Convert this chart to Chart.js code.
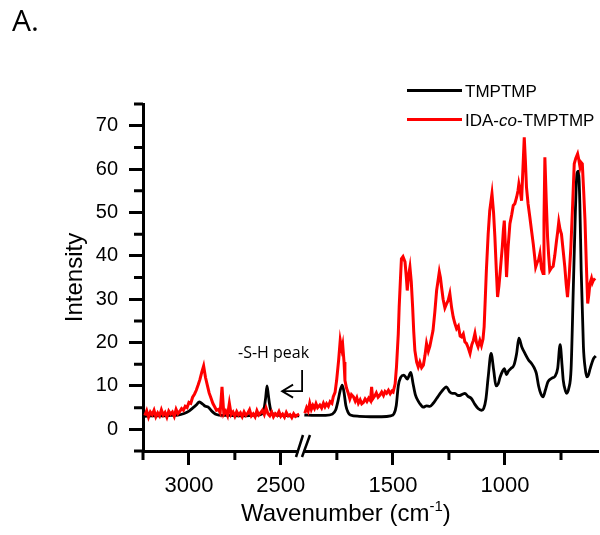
<!DOCTYPE html>
<html>
<head>
<meta charset="utf-8">
<script src="https://cdn.jsdelivr.net/npm/chart.js@4.4.1/dist/chart.umd.min.js"></script>
<style>
  html, body { margin: 0; padding: 0; background: #fff; }
  #wrap { position: relative; width: 600px; height: 535px; overflow: hidden; }
  #wrap canvas { position: absolute; left: 0; top: 0; }
  .lbl { position: absolute; white-space: nowrap; line-height: 1; color: #000; font-family: 'Liberation Sans', Arial, sans-serif; }
  .swatch { position: absolute; left: 407px; width: 55px; height: 3px; }
  .sup { font-size: 15px; position: relative; top: -10px; }
</style>
</head>
<body>
<div id="wrap">
  <canvas id="raman_chart" width="600" height="535"></canvas>
  <div class="lbl" style="left:12px; top:5px; font-family:'Open Sans', sans-serif; font-size:30px;">A.</div>
  <div class="swatch" style="top:89px; background:#000;"></div>
  <div class="lbl" style="left:465px; top:83px; font-size:17px;">TMPTMP</div>
  <div class="swatch" style="top:118px; background:#ff0000;"></div>
  <div class="lbl" style="left:465px; top:112px; font-size:17px;">IDA-<i>co</i>-TMPTMP</div>
  <div class="lbl" style="left:238px; top:344px; font-family:'Open Sans', sans-serif; font-size:16px;">-S-H peak</div>
  <div class="lbl" style="left:241px; top:501px; font-size:24px;">Wavenumber (cm<span class="sup">-1</span>)</div>
</div>
<script>
'use strict';

// axis ticks (major ones get a label)
const yTicks = [-5, 0, 5, 10, 15, 20, 25, 30, 35, 40, 45, 50, 55, 60, 65, 70, 75];
const xTicksLeft = [3250, 3000, 2750, 2500];
const xTicksRight = [1750, 1500, 1250, 1000, 750];

// S-H arrow: tip and corner, in wavenumber / intensity
const shArrowTip = [2493, 8.8];
const shArrowCorner = [2384, 13.7];

// TMPTMP, high wavenumber part
const wnLeftBlack = [3240, 3200, 3150, 3100, 3060, 3030, 3000, 2980, 2960, 2943,
    2925, 2910, 2895, 2880, 2865, 2850, 2820, 2780, 2740, 2700,
    2660, 2630, 2610, 2598, 2590, 2582, 2575, 2568, 2562, 2555,
    2546, 2535, 2510, 2480, 2450, 2420, 2400];
const tmptmpLeft = [3.0, 3.1, 3.1, 3.2, 3.3, 3.6, 4.2, 4.9, 5.6, 6.3,
    5.8, 5.3, 5.1, 4.4, 3.8, 3.4, 3.2, 3.2, 3.1, 3.1,
    3.2, 3.3, 3.4, 3.8, 5.0, 7.4, 10.0, 8.0, 6.0, 4.5,
    3.7, 3.4, 3.2, 3.2, 3.1, 3.1, 3.1];

// IDA-co-TMPTMP, high wavenumber part
const wnLeftRed = [3240, 3230, 3220, 3210, 3200, 3190, 3180, 3170, 3160, 3150,
    3140, 3130, 3120, 3110, 3100, 3090, 3080, 3070, 3060, 3050,
    3040, 3030, 3020, 3010, 3000, 2990, 2980, 2970, 2960, 2950,
    2940, 2930, 2920, 2910, 2900, 2890, 2880, 2870, 2860, 2850,
    2840, 2830, 2820, 2810, 2800, 2790, 2780, 2770, 2760, 2750,
    2740, 2730, 2720, 2710, 2700, 2690, 2680, 2670, 2660, 2650,
    2640, 2630, 2620, 2610, 2600, 2590, 2580, 2570, 2560, 2550,
    2540, 2530, 2520, 2510, 2500, 2490, 2480, 2470, 2460, 2450,
    2440, 2430, 2420, 2410, 2400];
const idaLeft = [3.2, 4.3, 2.8, 4.0, 3.4, 4.4, 2.9, 3.8, 3.1, 4.5,
    3.3, 3.9, 2.8, 4.2, 3.5, 4.0, 3.0, 4.6, 3.6, 4.1,
    4.8, 4.4, 5.3, 5.0, 6.2, 6.0, 7.4, 8.1, 9.0, 10.2,
    11.5, 13.2, 14.6, 12.0, 10.2, 8.4, 7.2, 6.0, 5.2, 4.4,
    4.6, 3.8, 9.8, 3.5, 4.2, 3.2, 6.0, 3.4, 4.0, 3.0,
    4.1, 3.3, 3.8, 2.9, 4.0, 3.2, 3.7, 4.5, 3.1, 3.6,
    2.9, 4.3, 3.3, 3.8, 4.4, 3.4, 4.9, 3.6, 3.1, 4.0,
    2.9, 3.6, 3.2, 4.1, 3.0, 3.5, 2.8, 3.9, 3.1, 3.4,
    2.7, 3.6, 3.0, 3.3, 3.5];

// TMPTMP, fingerprint part
const wnRightBlack = [1895, 1850, 1800, 1770, 1755, 1745, 1735, 1726, 1718, 1710,
    1700, 1690, 1650, 1600, 1550, 1510, 1495, 1485, 1476, 1465,
    1451, 1436, 1420, 1410, 1400, 1387, 1375, 1364, 1350, 1335,
    1320, 1305, 1283, 1261, 1246, 1235, 1223, 1210, 1201, 1190,
    1179, 1165, 1150, 1135, 1120, 1105, 1095, 1085, 1075, 1062,
    1050, 1040, 1030, 1022, 1010, 1003, 993, 985, 974, 960,
    948, 938, 925, 911, 895, 882, 870, 860, 850, 840,
    830, 820, 808, 790, 777, 765, 754, 745, 740, 730,
    725, 715, 705, 695, 686, 679, 672, 666, 660, 650,
    642, 635, 628, 620, 605, 595];
const tmptmpRight = [3.3, 3.2, 3.2, 3.5, 4.5, 6.5, 9.0, 10.2, 8.5, 5.5,
    3.9, 3.3, 3.0, 2.9, 2.9, 3.1, 3.6, 5.5, 10.0, 12.0,
    12.5, 11.6, 13.1, 10.5, 8.0, 6.5, 5.6, 5.1, 5.4, 5.3,
    6.0, 7.1, 8.7, 9.8, 8.6, 8.3, 8.3, 7.8, 7.8, 8.1,
    8.3, 7.6, 7.1, 5.8, 4.8, 4.4, 4.8, 7.0, 12.0, 17.5,
    13.5, 10.0, 10.5, 12.0, 13.5, 14.0, 12.6, 13.4, 14.0, 14.8,
    17.5, 21.0, 19.0, 17.5, 16.0, 15.2, 14.2, 12.9, 10.0, 8.2,
    7.5, 9.0, 11.0, 11.8, 12.2, 14.0, 19.5, 14.5, 11.3, 8.8,
    8.3, 9.5, 14.0, 32.8, 50.0, 58.9, 59.5, 52.0, 36.6, 19.0,
    14.0, 12.1, 12.5, 14.0, 16.3, 16.9];

// IDA-co-TMPTMP, fingerprint part
const wnRightRed = [1893, 1885, 1878, 1871, 1864, 1857, 1850, 1843, 1836, 1826,
    1818, 1810, 1803, 1796, 1788, 1780, 1772, 1766, 1758, 1751,
    1742, 1735, 1728, 1724, 1718, 1714, 1707, 1699, 1692, 1685,
    1676, 1668, 1661, 1654, 1646, 1639, 1632, 1624, 1616, 1608,
    1600, 1595, 1590, 1582, 1574, 1566, 1558, 1550, 1542, 1535,
    1528, 1520, 1512, 1505, 1499, 1490, 1484, 1476, 1472, 1466,
    1462, 1455, 1446, 1440, 1436, 1430, 1424, 1418, 1412, 1407,
    1402, 1394, 1387, 1380, 1372, 1364, 1357, 1350, 1342, 1335,
    1328, 1321, 1313, 1305, 1298, 1293, 1288, 1283, 1276, 1268,
    1260, 1253, 1246, 1238, 1231, 1224, 1216, 1208, 1200, 1194,
    1186, 1179, 1172, 1164, 1156, 1148, 1141, 1134, 1127, 1120,
    1112, 1105, 1098, 1093, 1088, 1083, 1075, 1068, 1058, 1051,
    1045, 1038, 1033, 1027, 1022, 1017, 1012, 1007, 1003, 998,
    993, 986, 978, 970, 963, 956, 948, 942, 938, 932,
    926, 920, 914, 909, 904, 897, 889, 882, 874, 868,
    863, 856, 850, 844, 837, 830, 826, 822, 816, 810,
    805, 800, 793, 785, 778, 770, 765, 760, 754, 748,
    740, 733, 727, 721, 714, 706, 698, 691, 684, 676,
    670, 665, 660, 655, 649, 643, 637, 631, 626, 621,
    614, 610, 606, 598];
const idaRight = [3.7, 5.0, 4.2, 6.0, 4.6, 5.5, 4.8, 5.9, 5.0, 5.6,
    4.9, 6.0, 5.2, 5.9, 5.3, 6.4, 6.0, 7.5, 8.5, 11.3,
    16.0, 20.5, 18.5, 19.5, 15.5, 11.3, 9.5, 8.3, 7.0, 8.0,
    7.5, 6.5, 7.3, 6.0, 6.8, 5.9, 6.2, 7.0, 6.4, 7.2,
    6.6, 9.8, 7.0, 7.6, 8.4, 7.4, 7.9, 8.6, 7.8, 8.7,
    8.3, 9.0, 8.2, 8.8, 8.6, 10.5, 14.4, 22.0, 28.2, 35.0,
    39.3, 39.8, 38.6, 35.0, 32.0, 35.5, 37.4, 34.0, 28.2, 22.5,
    18.2, 15.5, 14.4, 15.5, 14.2, 14.8, 17.0, 19.8, 18.0, 19.2,
    21.0, 22.8, 27.0, 32.0, 34.5, 36.3, 35.0, 32.8, 30.0, 28.0,
    29.0, 29.8, 31.3, 28.0, 25.9, 24.5, 23.2, 23.8, 21.5, 21.3,
    22.0, 20.2, 19.8, 18.8, 17.5, 19.5, 20.5, 22.1, 20.0, 19.0,
    20.5, 19.3, 20.8, 23.6, 30.0, 36.6, 45.0, 50.4, 54.3, 50.0,
    44.3, 36.0, 30.5, 33.0, 35.9, 39.0, 42.0, 46.0, 48.1, 42.0,
    35.1, 42.0, 47.4, 49.5, 51.6, 52.0, 53.5, 55.0, 56.6, 55.0,
    52.7, 60.0, 67.3, 62.0, 55.8, 52.0, 48.9, 46.0, 42.8, 40.0,
    37.4, 38.5, 39.0, 40.5, 37.0, 35.9, 48.0, 62.7, 53.0, 44.3,
    40.0, 36.6, 37.2, 37.6, 40.0, 43.5, 45.5, 47.8, 46.0, 45.0,
    41.0, 37.4, 33.5, 30.5, 35.0, 42.0, 52.0, 61.2, 62.5, 63.5,
    62.0, 60.4, 61.5, 61.2, 55.0, 48.1, 38.0, 29.0, 31.0, 33.6,
    34.8, 33.8, 34.3, 34.8];

const toPoints = (wn, vals) => wn.map((w, i) => ({x: w, y: vals[i]}));

function spectrum(label, wn, vals, axisId, color, smooth) {
    return {
        label: label,
        data: toPoints(wn, vals),
        xAxisID: axisId,
        borderColor: color,
        borderWidth: smooth ? 2.8 : 3,
        pointRadius: 0,
        fill: false,
        cubicInterpolationMode: smooth ? 'monotone' : 'default',
        tension: 0
    };
}

const isMajor = step => c => c.tick && c.tick.value % step === 0 ? '#000' : 'rgba(0,0,0,0)';

function wnAxis(min, max, weight, ticks) {
    return {
        type: 'linear',
        position: 'bottom',
        stack: 'wn',
        stackWeight: weight,
        min: min,
        max: max,
        reverse: true,
        afterBuildTicks: s => { s.ticks = ticks.map(v => ({value: v})); },
        afterFit: s => {
            s.height = 84;
            // no room kept for label overflow, the plot must reach the right edge
            s.paddingLeft = 0;
            s.paddingRight = 0;
        },
        grid: {drawOnChartArea: false, tickLength: 14, tickWidth: 3, tickColor: isMajor(500)},
        border: {color: '#000', width: 3},
        ticks: {
            autoSkip: false, maxRotation: 0, padding: 8, color: '#000',
            font: {size: 22},
            callback: v => v % 500 === 0 ? v : ''
        }
    };
}

// minor ticks, the axis break and the S-H arrow
const axisExtras = {
    id: 'axisExtras',
    afterDraw(chart) {
        const ctx = chart.ctx;
        const area = chart.chartArea;
        const yS = chart.scales.y, xL = chart.scales.xLeft, xR = chart.scales.xRight;
        ctx.save();
        ctx.strokeStyle = '#000';
        ctx.lineWidth = 3;
        ctx.beginPath();
        yS.ticks.forEach(t => {
            if (t.value % 10 !== 0) {
                const py = yS.getPixelForValue(t.value);
                ctx.moveTo(area.left, py);
                ctx.lineTo(area.left - 9, py);
            }
        });
        [xL, xR].forEach(s => s.ticks.forEach(t => {
            if (t.value % 500 !== 0) {
                const px = s.getPixelForValue(t.value);
                ctx.moveTo(px, area.bottom);
                ctx.lineTo(px, area.bottom + 9);
            }
        }));
        ctx.stroke();

        const bx = xL.right;
        ctx.fillStyle = '#fff';
        ctx.fillRect(bx - 2.5, area.bottom - 3, 5, 6);
        ctx.lineWidth = 2.5;
        ctx.beginPath();
        ctx.moveTo(bx - 5, area.bottom + 6);
        ctx.lineTo(bx + 2, area.bottom - 16);
        ctx.moveTo(bx + 1, area.bottom + 6);
        ctx.lineTo(bx + 9, area.bottom - 16);
        ctx.stroke();

        const tipX = xL.getPixelForValue(shArrowTip[0]), tipY = yS.getPixelForValue(shArrowTip[1]);
        const cornerX = xL.getPixelForValue(shArrowCorner[0]), topY = yS.getPixelForValue(shArrowCorner[1]);
        ctx.lineWidth = 1.8;
        ctx.beginPath();
        ctx.moveTo(cornerX, topY);
        ctx.lineTo(cornerX, tipY);
        ctx.lineTo(tipX, tipY);
        ctx.moveTo(tipX + 11, tipY - 6.5);
        ctx.lineTo(tipX, tipY);
        ctx.lineTo(tipX + 11, tipY + 6.5);
        ctx.stroke();
        ctx.restore();
    }
};

Chart.defaults.font.family = "'Liberation Sans', Arial, sans-serif";
Chart.defaults.color = '#000';

let config = {
    type: 'line',
    data: {
        datasets: [
            spectrum('IDA-co-TMPTMP', wnLeftRed, idaLeft, 'xLeft', '#ff0000', false),
            spectrum('IDA-co-TMPTMP', wnRightRed, idaRight, 'xRight', '#ff0000', false),
            spectrum('TMPTMP', wnLeftBlack, tmptmpLeft, 'xLeft', '#000000', true),
            spectrum('TMPTMP', wnRightBlack, tmptmpRight, 'xRight', '#000000', true)
        ]
    },
    options: {
        responsive: false,
        animation: false,
        devicePixelRatio: 1,
        layout: {padding: {top: 104, right: 2, bottom: 0, left: 0}},
        plugins: {legend: {display: false}, tooltip: {enabled: false}},
        scales: {
            xLeft: wnAxis(2390, 3250, 158, xTicksLeft),
            xRight: wnAxis(585, 1910, 297, xTicksRight),
            y: {
                type: 'linear',
                min: -5,
                max: 75,
                afterBuildTicks: s => { s.ticks = yTicks.map(v => ({value: v})); },
                afterFit: s => {
                    s.width = 143;
                    s.paddingTop = 0;
                    s.paddingBottom = 0;
                },
                grid: {drawOnChartArea: false, tickLength: 14, tickWidth: 3, tickColor: isMajor(10)},
                border: {color: '#000', width: 3},
                ticks: {
                    autoSkip: false, padding: 11, color: '#000',
                    font: {size: 20},
                    callback: v => v % 10 === 0 ? v : ''
                },
                title: {
                    display: true, text: 'Intensity', color: '#000',
                    font: {size: 24}, padding: {top: 61, bottom: 0}
                }
            }
        }
    },
    plugins: [axisExtras]
};

new Chart(document.getElementById('raman_chart').getContext('2d'), config);
</script>
</body>
</html>
